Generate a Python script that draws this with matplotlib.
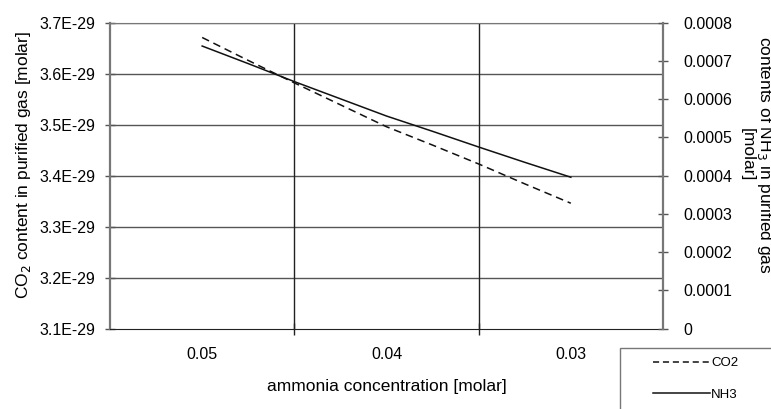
#!/usr/bin/env python3
# plot.py: CO2 / NH3 content in purified gas vs ammonia concentration (two y axes)

import numpy as np
import matplotlib
matplotlib.use("Agg")
import matplotlib.pyplot as plt
from matplotlib.lines import Line2D
from matplotlib.patches import Rectangle
from matplotlib.ticker import FuncFormatter

plt.rcParams['font.family'] = ['Liberation Sans', 'DejaVu Sans']

# ammonia concentration [molar] (axis runs from high to low)
conc = [0.05, 0.0475, 0.045, 0.0425, 0.04, 0.0375, 0.035, 0.0325, 0.03]
# CO2 content in purified gas [molar]
co2 = [3.671e-29, 3.626e-29, 3.582e-29, 3.539e-29, 3.496e-29,
       3.460e-29, 3.423e-29, 3.384e-29, 3.346e-29]
# NH3 content in purified gas [molar]
nh3 = [0.000739, 0.000693, 0.000646, 0.000601, 0.000556,
       0.000516, 0.000475, 0.000435, 0.000396]

x_labels = [0.05, 0.04, 0.03]
x_bounds = [0.045, 0.035]
co2_ticks = [3.1e-29, 3.2e-29, 3.3e-29, 3.4e-29, 3.5e-29, 3.6e-29, 3.7e-29]
nh3_ticks = [0, 0.0001, 0.0002, 0.0003, 0.0004, 0.0005, 0.0006, 0.0007, 0.0008]

W, H = 771, 409
fig = plt.figure(figsize=(W / 100, H / 100), dpi=100)
ax = fig.add_axes([110 / W, 1 - 328.7 / H, (663 - 110) / W, (328.7 - 22.7) / H])
ax2 = ax.twinx()

ax.set_xlim(0.055, 0.025)
ax.set_ylim(co2_ticks[0], co2_ticks[-1])
ax2.set_ylim(nh3_ticks[0], nh3_ticks[-1])

# grid
for v in co2_ticks[1:]:
    ax.axhline(v, color='#555555', lw=1.0, zorder=0)
for c in x_bounds:
    ax.axvline(c, color='#222222', lw=1.0, zorder=0)

# data
ax.plot(conc, co2, color='#111111', lw=1.1, dashes=(5, 3.2), zorder=3)
ax2.plot(conc, nh3, color='#111111', lw=1.1, zorder=3)

# x axis
ax.set_xticks(x_labels)
ax.set_xticklabels([f"{c:g}" for c in x_labels])
ax.set_xticks(x_bounds, minor=True)
ax.tick_params(axis='x', which='major', length=0, pad=13, labelsize=11.5)
ax.tick_params(axis='x', which='minor', direction='inout', length=8, width=1, color='#222222')
ax.set_xlabel('ammonia concentration [molar]', fontsize=12.5)
ax.xaxis.set_label_coords(0.5, -0.163)

# left axis
ax.set_yticks(co2_ticks)
ax.yaxis.set_major_formatter(FuncFormatter(lambda v, p: f"{v:.1E}"))
ax.tick_params(axis='y', direction='inout', length=7, width=1, color='#555555', pad=7, labelsize=11.5)
ax.set_ylabel('CO$_2$ content in purified gas [molar]', fontsize=12.5)
ax.yaxis.set_label_coords(-0.14, 0.535)

# right axis
ax2.set_yticks(nh3_ticks)
ax2.yaxis.set_major_formatter(FuncFormatter(lambda v, p: f"{v:g}"))
ax2.tick_params(axis='y', direction='inout', length=7, width=1, color='#555555', pad=11, labelsize=11.5)
fig.text(757 / W, 1 - 155 / H, 'contents of NH$_3$ in purified gas\n[molar]',
         rotation=270, ha='center', va='center', fontsize=12.5, linespacing=1.05)

# spines
ax.spines['left'].set_color('#777777')
ax.spines['left'].set_linewidth(1.6)
ax.spines['bottom'].set_color('#222222')
ax.spines['top'].set_color('#777777')
ax.spines['right'].set_visible(False)
for s in ['left', 'bottom', 'top']:
    ax2.spines[s].set_visible(False)
ax2.spines['right'].set_color('#777777')
ax2.spines['right'].set_linewidth(1.6)

# legend box (runs off the figure edge like the original)
fig.add_artist(Rectangle((620 / W, -0.05), 0.3, 0.05 + (409 - 348) / H,
                         transform=fig.transFigure, facecolor='white',
                         edgecolor='#777777', lw=1.0, clip_on=False))
handles = [Line2D([], [], color='#111111', lw=1.1, dashes=(4, 2.5)),
           Line2D([], [], color='#111111', lw=1.1)]
fig.legend(handles, ['CO2', 'NH3'], loc='upper left',
           bbox_to_anchor=(653 / W, 1 - 357 / H), frameon=False,
           fontsize=9.5, handlelength=4.3, handletextpad=0.1,
           labelspacing=1.45, borderpad=0, borderaxespad=0)

fig.savefig('out.png', dpi=100)
